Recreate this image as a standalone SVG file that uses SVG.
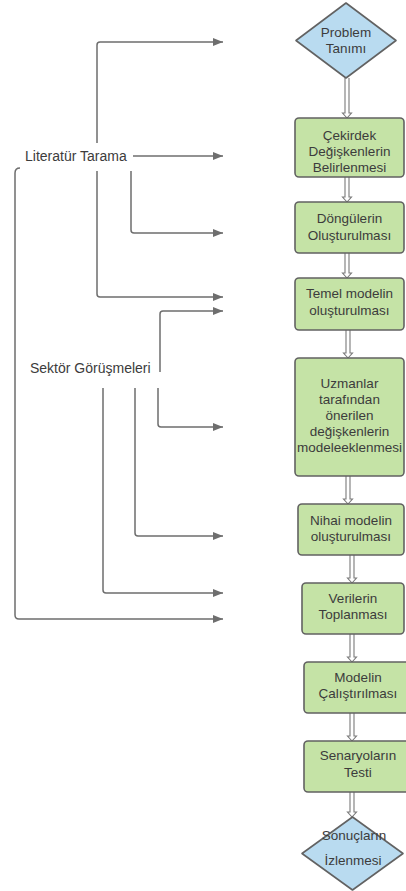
<svg xmlns="http://www.w3.org/2000/svg" width="406" height="891" viewBox="0 0 406 891">
  <defs>
    <marker id="tip" markerUnits="userSpaceOnUse" markerWidth="11" markerHeight="8" refX="10" refY="4" orient="auto">
      <path d="M0,0 L10,4 L0,8 Z" fill="#6e6e6e"/>
    </marker>
    <style>
      .box { fill: #c5e3a6; stroke: #626262; stroke-width: 1.6; }
      .dia { fill: #b9dbf0; stroke: #626262; stroke-width: 1.6; stroke-linejoin: round; }
      .lbl { font-family: "Liberation Sans", Arial, sans-serif; font-size: 13.5px; fill: #3c3c3c; text-anchor: middle; }
      .side { font-family: "Liberation Sans", Arial, sans-serif; font-size: 14px; fill: #3c3c3c; }
      .feed { fill: none; stroke: #6e6e6e; stroke-width: 1.5; marker-end: url(#tip); }
      .flow { fill: #ffffff; stroke: #7a7a7a; stroke-width: 1.1; stroke-linejoin: miter; }
    </style>
  </defs>

  <!-- side inputs -->
  <g id="literatur">
    <text class="side" x="25" y="161">Literatür Tarama</text>
  </g>
  <g id="sektor">
    <text class="side" x="30" y="373">Sektör Görüşmeleri</text>
  </g>

  <!-- connectors -->
  <g id="connectors">
    <!-- literature review feeds -->
    <path class="feed" d="M97 143 V45 Q97 42 100 42 H223"/>
    <path class="feed" d="M133 156 H223"/>
    <path class="feed" d="M131 171 V230 Q131 233 134 233 H223"/>
    <path class="feed" d="M97 171 V294 Q97 297 100 297 H223"/>
    <path class="feed" d="M20 168 Q15 168 15 173 V615 Q15 619 19 619 H223"/>
    <!-- sector interview feeds -->
    <path class="feed" d="M160 372 V314 Q160 311 163 311 H223"/>
    <path class="feed" d="M158 388 V424 Q158 427 161 427 H223"/>
    <path class="feed" d="M135 388 V533 Q135 536 138 536 H223"/>
    <path class="feed" d="M103 388 V590 Q103 593 106 593 H223"/>
    <!-- main flow (hollow arrows) -->
    <path class="flow" d="M345 78 V113 H342.5 L347 118 L351.5 113 H349 V78"/>
    <path class="flow" d="M345 177 V197 H342.5 L347 202 L351.5 197 H349 V177"/>
    <path class="flow" d="M345 253 V273 H342.5 L347 278 L351.5 273 H349 V253"/>
    <path class="flow" d="M346 330 V353 H343.5 L348 358 L352.5 353 H350 V330"/>
    <path class="flow" d="M346 476 V499 H343.5 L348 504 L352.5 499 H350 V476"/>
    <path class="flow" d="M350 555 V578 H347.5 L352 583 L356.5 578 H354 V555"/>
    <path class="flow" d="M350 634 V657 H347.5 L352 662 L356.5 657 H354 V634"/>
    <path class="flow" d="M350 713 V736 H347.5 L352 741 L356.5 736 H354 V713"/>
    <path class="flow" d="M350 792 V812 H347.5 L352 817 L356.5 812 H354 V792"/>
  </g>

  <!-- nodes -->
  <g id="problem">
    <path class="dia" d="M346 3 L396 40.5 L346 78 L296 40.5 Z"/>
    <text class="lbl" x="346" y="37">Problem</text>
    <text class="lbl" x="346" y="53">Tanımı</text>
  </g>
  <g id="cekirdek">
    <rect class="box" x="295" y="118" width="109" height="59" rx="4"/>
    <text class="lbl" x="349.5" y="140">Çekirdek</text>
    <text class="lbl" x="349.5" y="156">Değişkenlerin</text>
    <text class="lbl" x="349.5" y="172">Belirlenmesi</text>
  </g>
  <g id="donguler">
    <rect class="box" x="295" y="202" width="109" height="51" rx="4"/>
    <text class="lbl" x="349.5" y="223">Döngülerin</text>
    <text class="lbl" x="349.5" y="240">Oluşturulması</text>
  </g>
  <g id="temel">
    <rect class="box" x="295" y="278" width="109" height="52" rx="4"/>
    <text class="lbl" x="349.5" y="298">Temel modelin</text>
    <text class="lbl" x="349.5" y="315">oluşturulması</text>
  </g>
  <g id="uzmanlar">
    <rect class="box" x="295" y="358" width="109" height="118" rx="4"/>
    <text class="lbl" x="349.5" y="388">Uzmanlar</text>
    <text class="lbl" x="349.5" y="404">tarafından</text>
    <text class="lbl" x="349.5" y="420">önerilen</text>
    <text class="lbl" x="349.5" y="436">değişkenlerin</text>
    <text class="lbl" x="349.5" y="452">modeleeklenmesi</text>
  </g>
  <g id="nihai">
    <rect class="box" x="298" y="504" width="106" height="51" rx="4"/>
    <text class="lbl" x="351" y="525">Nihai modelin</text>
    <text class="lbl" x="351" y="541">oluşturulması</text>
  </g>
  <g id="veriler">
    <rect class="box" x="302" y="583" width="102" height="51" rx="4"/>
    <text class="lbl" x="353" y="603">Verilerin</text>
    <text class="lbl" x="353" y="619">Toplanması</text>
  </g>
  <g id="calistirma">
    <rect class="box" x="304" y="662" width="108" height="51" rx="4"/>
    <text class="lbl" x="358" y="682">Modelin</text>
    <text class="lbl" x="358" y="698">Çalıştırılması</text>
  </g>
  <g id="senaryo">
    <rect class="box" x="304" y="741" width="108" height="51" rx="4"/>
    <text class="lbl" x="358" y="760">Senaryoların</text>
    <text class="lbl" x="358" y="777">Testi</text>
  </g>
  <g id="sonuclar">
    <path class="dia" d="M352.5 817 L403 853.5 L352.5 890 L302 853.5 Z"/>
    <text class="lbl" x="354" y="840">Sonuçların</text>
    <text class="lbl" x="353" y="865">İzlenmesi</text>
  </g>
</svg>
